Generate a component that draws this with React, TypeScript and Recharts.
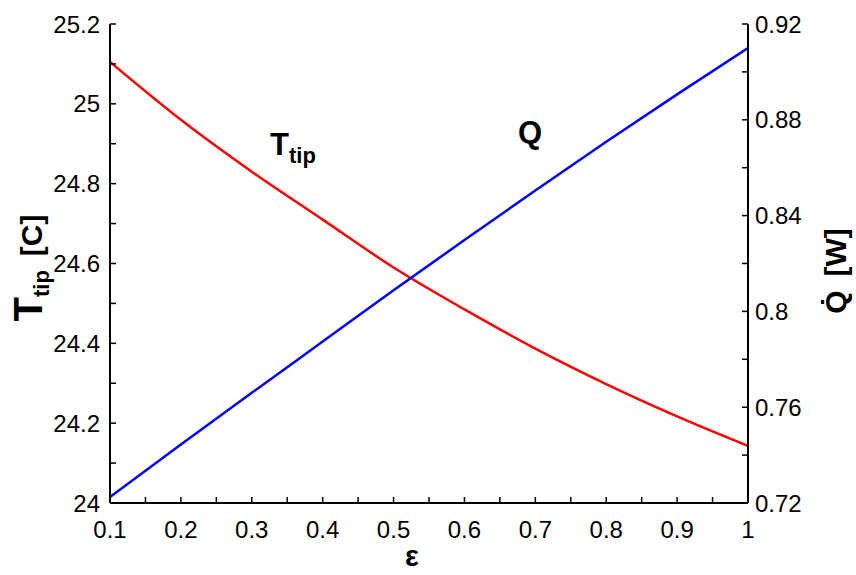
import { LineChart, Line, XAxis, YAxis, Label } from 'recharts';

// emissivity values along the x axis
const eps = [0.1, 0.2, 0.3, 0.4, 0.5, 0.6, 0.7, 0.8, 0.9, 1.0];
// tip temperature [C]
const tTip = [25.105, 24.96, 24.83, 24.71, 24.59, 24.485, 24.387, 24.298, 24.217, 24.143];
// heat rate [W]
const qDot = [0.7225, 0.7444, 0.766, 0.7874, 0.8088, 0.8298, 0.8505, 0.8708, 0.8906, 0.91];

const xMajor = [0.1, 0.2, 0.3, 0.4, 0.5, 0.6, 0.7, 0.8, 0.9, 1];
const xMinor = [0.15, 0.25, 0.35, 0.45, 0.55, 0.65, 0.75, 0.85, 0.95];
const tMajor = [24, 24.2, 24.4, 24.6, 24.8, 25, 25.2];
const tMinor = [24.1, 24.3, 24.5, 24.7, 24.9, 25.1];
const qMajor = [0.72, 0.76, 0.8, 0.84, 0.88, 0.92];
const qMinor = [0.74, 0.78, 0.82, 0.86, 0.9];

const data = eps.map((e, i) => ({ eps: e, t: tTip[i], q: qDot[i] }));

const font = '"Liberation Sans", Arial, sans-serif';
const tickStyle = { fill: '#000', fontSize: 24, fontFamily: font };
const axisLine = { stroke: '#000', strokeWidth: 2 };
const tickLine = { stroke: '#000', strokeWidth: 1.5 };

const merge = (a: number[], b: number[]) => [...a, ...b].sort((m, n) => m - n);
const fmt = (major: number[]) => (v: number) =>
  major.some((m) => Math.abs(m - v) < 1e-9) ? String(v) : '';

function Annotations() {
  return (
    <g fontFamily={font} fontWeight="bold" fill="#000">
      {/* left axis title */}
      <text transform="translate(42,268) rotate(-90)" textAnchor="middle">
        <tspan fontSize={40}>T</tspan>
        <tspan fontSize={22} dy={7}>tip</tspan>
        <tspan fontSize={30} dy={-7} dx={14}>[C]</tspan>
      </text>
      {/* right axis title */}
      <text transform="translate(846,271) rotate(-90)" textAnchor="middle" fontSize={30}>
        <tspan>{'Q\u0307'}</tspan>
        <tspan dx={14}>[W]</tspan>
      </text>
      {/* x axis title */}
      <text x={412} y={566} textAnchor="middle" fontSize={29}>
        ε
      </text>
      {/* curve labels */}
      <text x={270} y={155} fontSize={31}>
        T<tspan fontSize={22} dy={8}>tip</tspan>
      </text>
      <text x={518} y={143} fontSize={31}>
        Q
      </text>
    </g>
  );
}

export default function App() {
  return (
    <div style={{ position: 'absolute', left: 0, top: 0, background: '#fff' }}>
      <LineChart
        width={856}
        height={575}
        data={data}
        margin={{ top: 24, right: 0, left: 0, bottom: 0 }}
      >
        <XAxis
          xAxisId="bottom"
          dataKey="eps"
          type="number"
          domain={[0.1, 1]}
          ticks={merge(xMajor, xMinor)}
          interval={0}
          tickFormatter={fmt(xMajor)}
          tick={tickStyle}
          tickSize={-6}
          tickMargin={24}
          axisLine={axisLine}
          tickLine={tickLine}
          height={72}
          allowDataOverflow
        >
          <Label content={() => <Annotations />} />
        </XAxis>
        <XAxis
          xAxisId="top"
          orientation="top"
          dataKey="eps"
          type="number"
          domain={[0.1, 1]}
          ticks={merge(xMajor, xMinor)}
          interval={0}
          tickFormatter={() => ''}
          tickSize={-6}
          axisLine={axisLine}
          tickLine={tickLine}
          height={0}
          allowDataOverflow
        />
        <YAxis
          yAxisId="T"
          type="number"
          domain={[24, 25.2]}
          ticks={merge(tMajor, tMinor)}
          interval={0}
          tickFormatter={fmt(tMajor)}
          tick={tickStyle}
          tickSize={-6}
          tickMargin={16}
          axisLine={axisLine}
          tickLine={tickLine}
          width={110}
          allowDataOverflow
        />
        <YAxis
          yAxisId="Q"
          orientation="right"
          type="number"
          domain={[0.72, 0.92]}
          ticks={merge(qMajor, qMinor)}
          interval={0}
          tickFormatter={fmt(qMajor)}
          tick={tickStyle}
          tickSize={-6}
          tickMargin={13}
          axisLine={axisLine}
          tickLine={tickLine}
          width={108}
          allowDataOverflow
        />
        <Line
          xAxisId="bottom"
          yAxisId="T"
          type="monotone"
          dataKey="t"
          stroke="#ff0000"
          strokeWidth={2.5}
          dot={false}
          isAnimationActive={false}
        />
        <Line
          xAxisId="bottom"
          yAxisId="Q"
          type="monotone"
          dataKey="q"
          stroke="#0000ff"
          strokeWidth={2.5}
          dot={false}
          isAnimationActive={false}
        />
      </LineChart>
    </div>
  );
}
